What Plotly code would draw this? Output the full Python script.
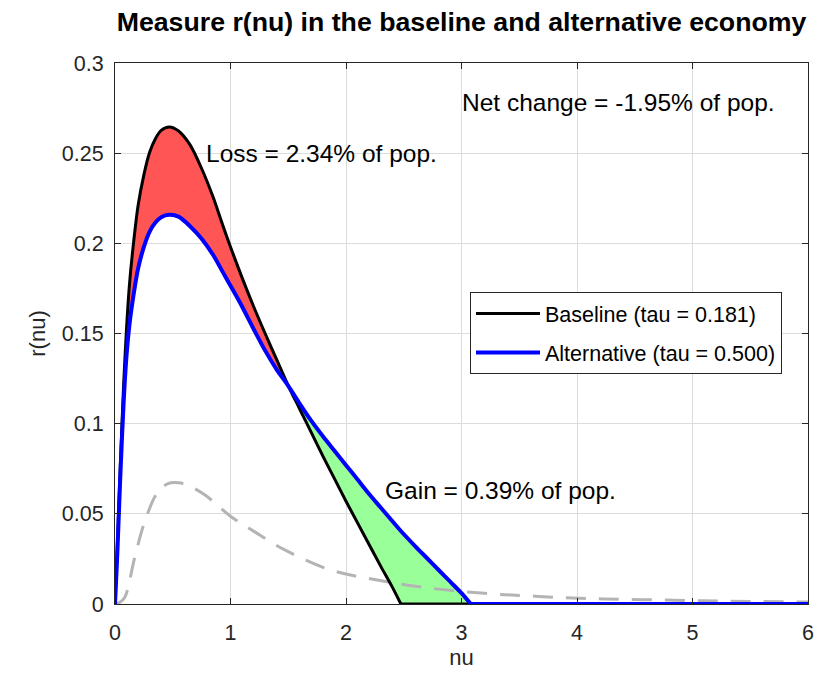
import plotly.graph_objects as go

# ---- data ----
nu = [0, 0.01, 0.02, 0.035, 0.05, 0.075, 0.1, 0.125, 0.15, 0.2, 0.25, 0.3, 0.35, 0.4, 0.47,
      0.55, 0.65, 0.75, 0.85, 0.925, 1.0, 1.1, 1.2, 1.3, 1.4, 1.5, 1.6, 1.7, 1.8, 1.9, 2.0,
      2.1, 2.2, 2.3, 2.4, 2.475, 2.6, 2.7, 2.8, 2.9, 3.0, 3.08, 3.5, 4.0, 5.0, 6.0]
r_baseline = [0, 0.016, 0.032, 0.058, 0.083, 0.122, 0.153, 0.177, 0.194, 0.221, 0.238,
              0.2505, 0.258, 0.2626, 0.2645, 0.2623, 0.2546, 0.2415, 0.2255, 0.2115, 0.198,
              0.181, 0.165, 0.150, 0.1355, 0.121, 0.108, 0.095, 0.082, 0.0695, 0.057,
              0.045, 0.033, 0.021, 0.0095, 0,
              0, 0, 0, 0, 0, 0, 0, 0, 0, 0]
r_alternative = [0, 0.014, 0.028, 0.053, 0.077, 0.112, 0.138, 0.155, 0.167, 0.186, 0.198,
                 0.2065, 0.2115, 0.2145, 0.2158, 0.2148, 0.2095, 0.2025, 0.1935, 0.185, 0.1765,
                 0.165, 0.1525, 0.1405, 0.130, 0.121, 0.111, 0.1015, 0.093, 0.085, 0.077,
                 0.069, 0.061, 0.0535, 0.046, 0.0405,
                 0.032, 0.0255, 0.019, 0.0125, 0.006, 0, 0, 0, 0, 0]

nu_ref = [0, 0.04, 0.084, 0.17, 0.257, 0.37, 0.46, 0.55, 0.63, 0.78, 1.0, 1.21, 1.47,
          1.86, 2.27, 2.7, 3.2, 3.55, 3.9, 4.23, 4.57, 4.92, 5.25, 5.6, 6.0]
r_ref = [0, 0.0008, 0.0036, 0.0256, 0.0456, 0.062, 0.0668, 0.0672, 0.0659, 0.0604,
         0.0487, 0.040, 0.030, 0.019, 0.0133, 0.009, 0.0059, 0.0046, 0.0035, 0.0028,
         0.0024, 0.002, 0.0016, 0.0014, 0.0011]

nu_cross = 1.5       # where the two curves cross
nu_base_zero = 2.475 # where the baseline reaches zero
nu_alt_zero = 3.08   # where the alternative reaches zero

loss_text = "Loss = 2.34% of pop."
gain_text = "Gain = 0.39% of pop."
net_text = "Net change = -1.95% of pop."
x_ticks = [0, 1, 2, 3, 4, 5, 6]
y_ticks = [0, 0.05, 0.1, 0.15, 0.2, 0.25, 0.3]
y_tick_labels = ["0", "0.05", "0.1", "0.15", "0.2", "0.25", "0.3"]

FONT = "Liberation Sans, Arial, Helvetica, sans-serif"
AX = "#262626"
SM = 0.8

W, H = 815, 675
ML, MR, MT, MB = 115, 7, 63, 71


def pick(ys, lo, hi):
    idx = [i for i, v in enumerate(nu) if lo <= v <= hi]
    return [nu[i] for i in idx], [ys[i] for i in idx]


fig = go.Figure()

# red fill (loss): between alternative (lower) and baseline (upper)
x_a, y_a = pick(r_alternative, 0, nu_cross)
x_b, y_b = pick(r_baseline, 0, nu_cross)
fig.add_trace(go.Scatter(x=x_a, y=y_a, mode="lines", line=dict(width=0, shape="spline", smoothing=SM),
                         showlegend=False, hoverinfo="skip"))
fig.add_trace(go.Scatter(x=x_b, y=y_b, mode="lines", line=dict(width=0, shape="spline", smoothing=SM),
                         fill="tonexty", fillcolor="#ff5555", showlegend=False, hoverinfo="skip"))
# green fill (gain): between baseline (lower) and alternative (upper)
x_b, y_b = pick(r_baseline, nu_cross, nu_alt_zero)
x_a, y_a = pick(r_alternative, nu_cross, nu_alt_zero)
fig.add_trace(go.Scatter(x=x_b, y=y_b, mode="lines", line=dict(width=0),
                         showlegend=False, hoverinfo="skip"))
fig.add_trace(go.Scatter(x=x_a, y=y_a, mode="lines", line=dict(width=0, shape="spline", smoothing=SM),
                         fill="tonexty", fillcolor="#99ff99", showlegend=False, hoverinfo="skip"))

# grey dashed reference
fig.add_trace(go.Scatter(x=nu_ref, y=r_ref, mode="lines",
                         line=dict(color="#b4b4b4", width=3, dash="20px,13px", shape="spline"),
                         showlegend=False, hoverinfo="skip"))

# baseline: smooth part + flat zero part
x_b1, y_b1 = pick(r_baseline, 0, nu_base_zero)
x_b2, y_b2 = pick(r_baseline, nu_base_zero, 6)
fig.add_trace(go.Scatter(x=x_b2, y=y_b2, mode="lines", line=dict(color="black", width=3),
                         showlegend=False, hoverinfo="skip"))
fig.add_trace(go.Scatter(x=x_b1, y=y_b1, mode="lines", name="Baseline (tau = 0.181)",
                         legendgroup="a", legendrank=1,
                         line=dict(color="black", width=3, shape="spline", smoothing=SM)))
# alternative: smooth part + flat zero part
x_a1, y_a1 = pick(r_alternative, 0, nu_alt_zero)
x_a2, y_a2 = pick(r_alternative, nu_alt_zero, 6)
fig.add_trace(go.Scatter(x=x_a2, y=y_a2, mode="lines", line=dict(color="#0000ff", width=4),
                         showlegend=False, hoverinfo="skip"))
fig.add_trace(go.Scatter(x=x_a1, y=y_a1, mode="lines", name="Alternative (tau = 0.500)",
                         legendgroup="b", legendrank=2,
                         line=dict(color="#0000ff", width=4, shape="spline", smoothing=SM)))

axis_common = dict(showgrid=True, gridcolor="#dcdcdc", gridwidth=1,
                   showline=True, linecolor=AX, linewidth=1, mirror="ticks",
                   ticks="inside", ticklen=6, tickcolor=AX, zeroline=False,
                   automargin=False, ticklabeloverflow="allow",
                   tickfont=dict(family=FONT, size=21.5, color=AX))

fig.update_layout(
    width=W, height=H,
    margin=dict(l=ML, r=MR, t=MT, b=MB),
    paper_bgcolor="white", plot_bgcolor="white",
    title=dict(text="<b>Measure r(nu) in the baseline and alternative economy</b>",
               x=(ML + (W - MR)) / 2 / W, xanchor="center", y=1 - 22 / H, yanchor="middle",
               font=dict(family=FONT, size=26.7, color="black")),
    xaxis=dict(range=[0, 6], tickvals=x_ticks, ticklabelstandoff=9,
               title=dict(text="nu", font=dict(family=FONT, size=22, color=AX), standoff=5),
               **axis_common),
    yaxis=dict(range=[0, 0.3], tickvals=y_ticks, ticktext=y_tick_labels, ticklabelstandoff=6,
               title=dict(text="r(nu)", font=dict(family=FONT, size=22, color=AX), standoff=10),
               **axis_common),
    legend=dict(x=(470 - 115) / 693, y=(604 - 292) / 541, xanchor="left", yanchor="top",
                bgcolor="white", bordercolor=AX, borderwidth=1, itemwidth=64,
                traceorder="grouped", tracegroupgap=8,
                font=dict(family=FONT, size=21.5, color="black")),
    showlegend=True,
)

fig.add_annotation(x=2.99, y=0.278, text=net_text, showarrow=False, xanchor="left",
                   yanchor="middle", font=dict(family=FONT, size=24.5, color="black"))
fig.add_annotation(x=0.77, y=0.250, text=loss_text, showarrow=False, xanchor="left",
                   yanchor="middle", font=dict(family=FONT, size=24.5, color="black"))
fig.add_annotation(x=2.32, y=0.0632, text=gain_text, showarrow=False, xanchor="left",
                   yanchor="middle", font=dict(family=FONT, size=24.5, color="black"))

fig.write_html("out.html", config={"displayModeBar": False},
               post_script="document.body.style.margin='0';document.body.style.overflow='hidden';")
